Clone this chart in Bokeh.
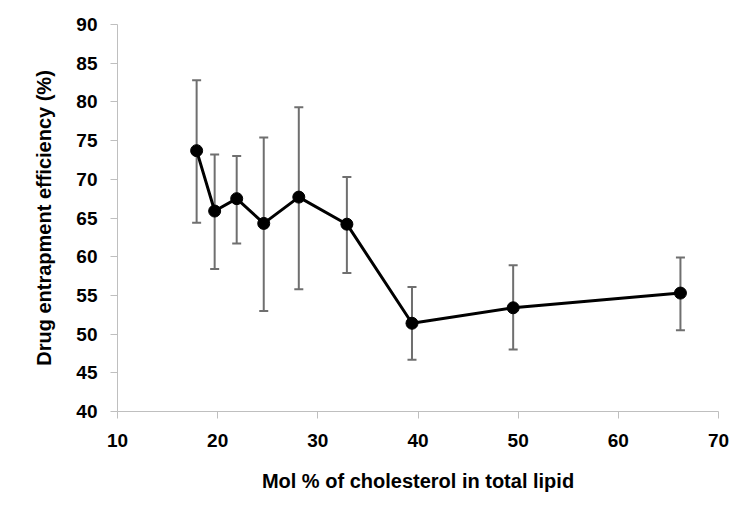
from bokeh.plotting import figure
from bokeh.models import ColumnDataSource, Whisker, TeeHead, FixedTicker, Range1d
from bokeh.embed import file_html
from bokeh.resources import INLINE

chol_mol_pct = [17.9, 19.7, 21.9, 24.6, 28.1, 32.9, 39.4, 49.5, 66.2]
efficiency = [73.7, 65.9, 67.5, 64.3, 67.7, 64.2, 51.4, 53.4, 55.3]
err_upper = [82.8, 73.2, 73.0, 75.4, 79.3, 70.3, 56.1, 58.9, 59.9]
err_lower = [64.4, 58.4, 61.7, 53.0, 55.8, 57.9, 46.7, 48.0, 50.5]
x_ticks = [10, 20, 30, 40, 50, 60, 70]
y_ticks = [40, 45, 50, 55, 60, 65, 70, 75, 80, 85, 90]

src = ColumnDataSource(dict(x=chol_mol_pct, y=efficiency, upper=err_upper, lower=err_lower))

p = figure(width=738, height=497, output_backend="svg", toolbar_location=None,
           x_range=Range1d(10, 70), y_range=Range1d(40, 90),
           min_border_left=117, min_border_right=20, min_border_top=24, min_border_bottom=86)
p.outline_line_color = None
p.xgrid.grid_line_color = None
p.ygrid.grid_line_color = None

err_col = "#6f6f6f"
w = Whisker(source=src, base="x", upper="upper", lower="lower", dimension="height",
            line_color=err_col, line_width=2,
            upper_head=TeeHead(size=9, line_color=err_col, line_width=2),
            lower_head=TeeHead(size=9, line_color=err_col, line_width=2))
p.add_layout(w)

p.line("x", "y", source=src, line_color="black", line_width=3)
p.scatter("x", "y", source=src, size=12, fill_color="black", line_color="black")

for ax in (p.xaxis[0], p.yaxis[0]):
    ax.axis_line_color = "#bfbfbf"
    ax.major_tick_line_color = "#bfbfbf"
    ax.minor_tick_line_color = None
    ax.major_tick_in = 0
    ax.major_tick_out = 7
    ax.major_label_text_font = "Liberation Sans"
    ax.major_label_text_font_style = "bold"
    ax.major_label_text_font_size = "19px"
    ax.major_label_text_color = "black"
    ax.axis_label_text_font = "Liberation Sans"
    ax.axis_label_text_font_style = "bold"
    ax.axis_label_text_font_size = "20px"
    ax.axis_label_text_color = "black"

p.xaxis.ticker = FixedTicker(ticks=x_ticks)
p.yaxis.ticker = FixedTicker(ticks=y_ticks)
p.xaxis.axis_label = "Mol % of cholesterol in total lipid"
p.yaxis.axis_label = "Drug entrapment efficiency (%)"
p.xaxis.major_label_standoff = 15
p.yaxis.major_label_standoff = 13
p.xaxis.axis_label_standoff = 20
p.yaxis.axis_label_standoff = 18

open("out.html", "w").write(file_html(p, INLINE))
